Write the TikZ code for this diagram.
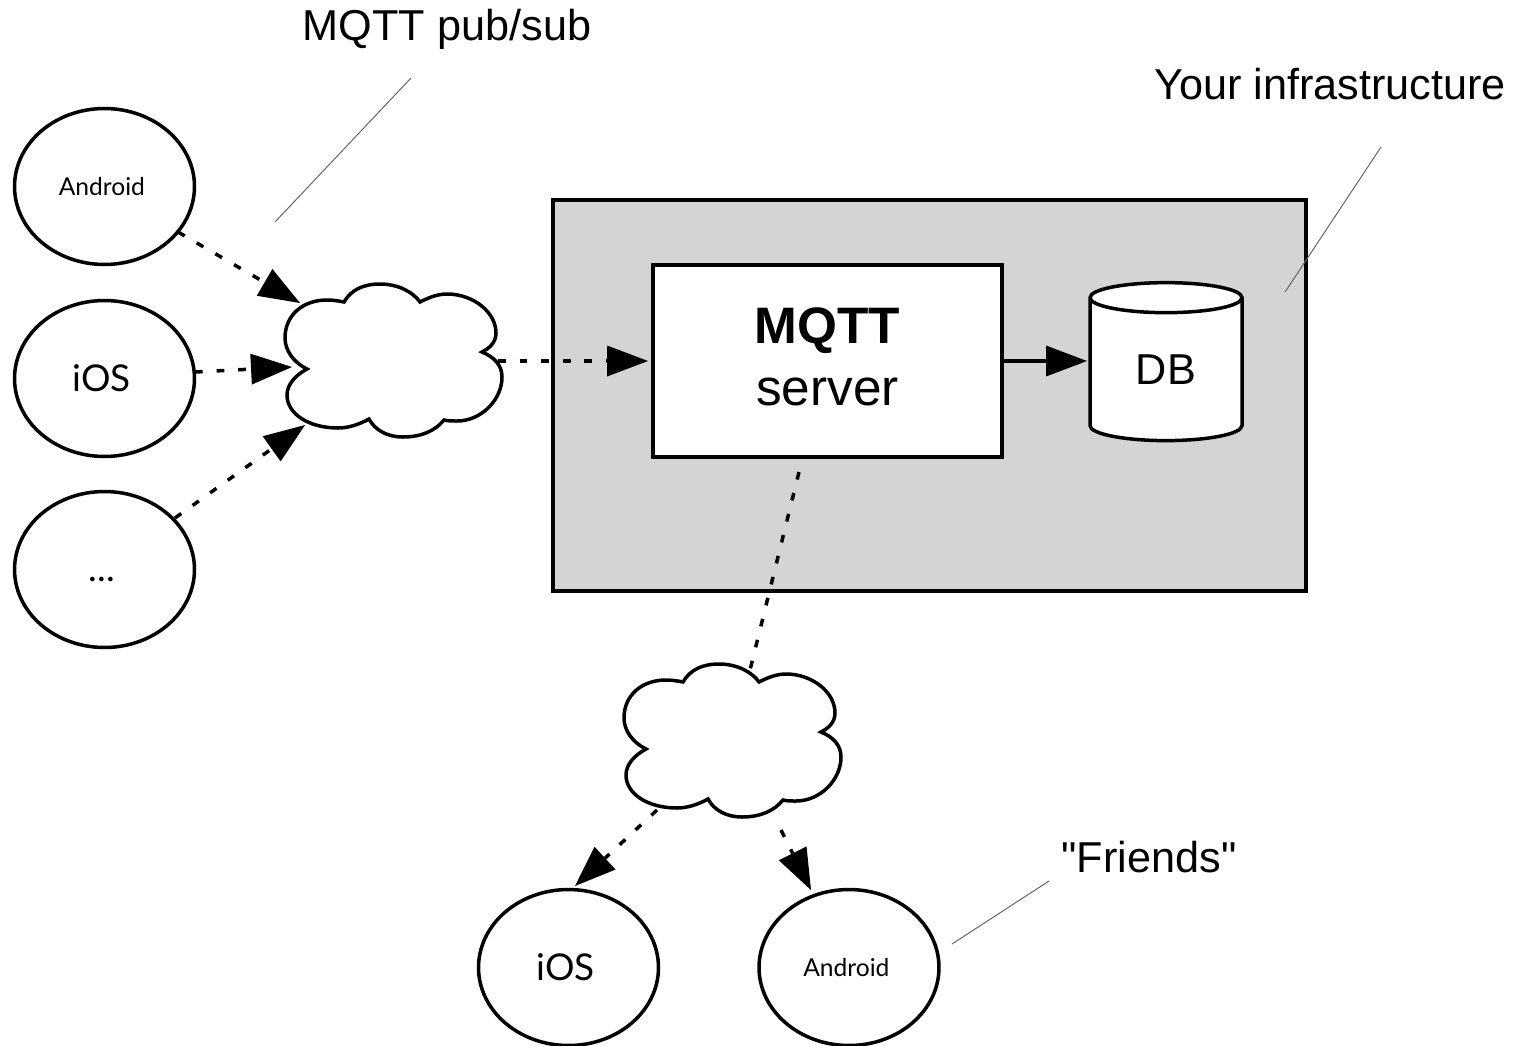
\documentclass[tikz,border=0pt]{standalone}
\usepackage{fontspec}
\setmainfont{Liberation Sans}
\newfontfamily\quotefont{Liberation Sans}
\newfontfamily\gillfont{Lato}
\usetikzlibrary{positioning,shapes.geometric,arrows.meta}
\tikzset{
  myclient/.style={
    draw, ellipse, fill=white, minimum width=3.6cm, minimum height=3.12cm, inner sep=0mm, outer sep=0mm, line width=0.07cm
  },
  mybox/.style={
    draw, rectangle, minimum height=3.84cm, minimum width=6.98cm, inner sep=0mm, outer sep=0mm, line width=0.07cm, fill=white
  },
  mylabel/.style={
    font=\fontsize{24.6}{29}\selectfont, inner sep=0mm
  },
  mydash/.style={
    line width=0.07cm, dash pattern=on 4.4pt off 7.9pt
  },
  myarrow/.style={
    -{Triangle[length=0.82cm,width=0.62cm,line width=0pt]}
  },
  myleader/.style={
    line width=0.02cm, black!60
  },
  bubble/.pic={
    \draw[line width=0.07cm, fill=white] (-86,9)
      .. controls (-100,2) and (-108,-10) .. (-108,-22)
      .. controls (-108,-45) and (-90,-60) .. (-66,-60)
      .. controls (-60,-60) and (-54,-59) .. (-49,-58)
      .. controls (-42,-70) and (-30,-76) .. (-13,-76)
      .. controls (5,-76) and (20,-68) .. (27,-58)
      .. controls (35,-62) and (44,-66) .. (54,-66)
      .. controls (80,-66) and (103,-48) .. (103,-27)
      .. controls (103,-18) and (97,-12) .. (89,-8)
      .. controls (101,-3) and (109,5) .. (109,17)
      .. controls (109,40) and (88,61) .. (64,61)
      .. controls (59,61) and (55,61) .. (51,60)
      .. controls (42,71) and (28,77) .. (10,77)
      .. controls (-6,77) and (-18,70) .. (-24,59)
      .. controls (-33,64) and (-44,68) .. (-55,68)
      .. controls (-84,68) and (-106,54) .. (-106,35)
      .. controls (-106,24) and (-97,15) .. (-86,9) -- cycle;
    \coordinate (-wn) at (-93,-57);
    \coordinate (-w) at (-101,7);
    \coordinate (-ws) at (-88,65);
    \coordinate (-e) at (105,1);
    \coordinate (-n) at (18,-70);
    \coordinate (-sw) at (-75,70);
    \coordinate (-se) at (49,90);
  }
}

\begin{document}
\begin{tikzpicture}[x=0.02cm, y=-0.02cm]
  \useasboundingbox (0, 0) rectangle (1514, 1045);

  \node[draw, rectangle, fill=black!17, line width=0.07cm, minimum width=15.06cm, minimum height=7.82cm, inner sep=0mm, outer sep=0mm] (infra) at (929.5, 395.5) {};
  \node[mybox, align=center, text depth=5pt, font=\fontsize{29.2}{34.9}\selectfont] (server) at (827.5, 361) {\textbf{MQTT}\\server};
  \node[draw, cylinder, shape border rotate=90, aspect=0.5, fill=white, line width=0.07cm, minimum width=3.04cm, minimum height=3.16cm, inner sep=0mm, outer sep=0mm, font=\fontsize{24.6}{29}\selectfont] (db) at (1166, 370) {DB};

  \node[myclient, font=\gillfont\fontsize{14}{16}\selectfont] (android1) at (104.5, 186.5) {Android\kern3pt};
  \node[myclient, font=\gillfont\fontsize{21}{25}\selectfont] (ios1) at (104.5, 378.5) {iOS\kern3pt};
  \node[myclient, font=\gillfont\fontsize{21}{25}\selectfont] (more1) at (104.5, 569.5) {\smash{\raisebox{-7pt}{...}}\kern3pt};
  \node[myclient, font=\gillfont\fontsize{21}{25}\selectfont] (ios2) at (568.5, 967.5) {iOS\kern3pt};
  \node[myclient, font=\gillfont\fontsize{14}{16}\selectfont] (android2) at (849, 967.5) {Android\kern3pt};

  \pic (cloud1) at (393, 360) {bubble};
  \pic (cloud2) at (732, 740) {bubble};

  \coordinate (a1from) at (178, 232);
  \coordinate (i1from) at (195, 372);
  \coordinate (m1from) at (175, 518);
  \coordinate (s2from) at (799, 472);
  \coordinate (i2tip) at (575, 886);
  \coordinate (a2tip) at (811, 890);

  \draw[mydash, myarrow] (a1from) -- (cloud1-wn);
  \draw[mydash, myarrow] (i1from) -- (cloud1-w);
  \draw[mydash, myarrow] (m1from) -- (cloud1-ws);
  \draw[mydash, myarrow, shorten >=0.1cm] (cloud1-e) -- (server.west |- cloud1-e);
  \draw[line width=0.07cm, myarrow, shorten >=0.06cm] (server.east) -- (db.west |- server.east);
  \draw[mydash] (s2from) -- (cloud2-n);
  \draw[mydash, myarrow] (cloud2-sw) -- (i2tip);
  \draw[mydash, myarrow] (cloud2-se) -- (a2tip);

  \node[mylabel] (pubsub) at (447, 29) {MQTT pub/sub};
  \node[mylabel] (yourinfra) at (1330, 84) {Your infrastructure};
  \node[mylabel, font=\quotefont\fontsize{24.6}{29}\selectfont] (friends) at (1149, 857) {"Friends"};

  \coordinate (pubsubend) at (411, 78);
  \coordinate (pubsubtip) at (275, 222);
  \coordinate (infraend) at (1381, 147);
  \coordinate (infratip) at (1285, 292);
  \coordinate (friendsend) at (1049, 881);
  \coordinate (friendstip) at (952, 944);
  \draw[myleader] (pubsubend) -- (pubsubtip);
  \draw[myleader] (infraend) -- (infratip);
  \draw[myleader] (friendsend) -- (friendstip);
\end{tikzpicture}
\end{document}
